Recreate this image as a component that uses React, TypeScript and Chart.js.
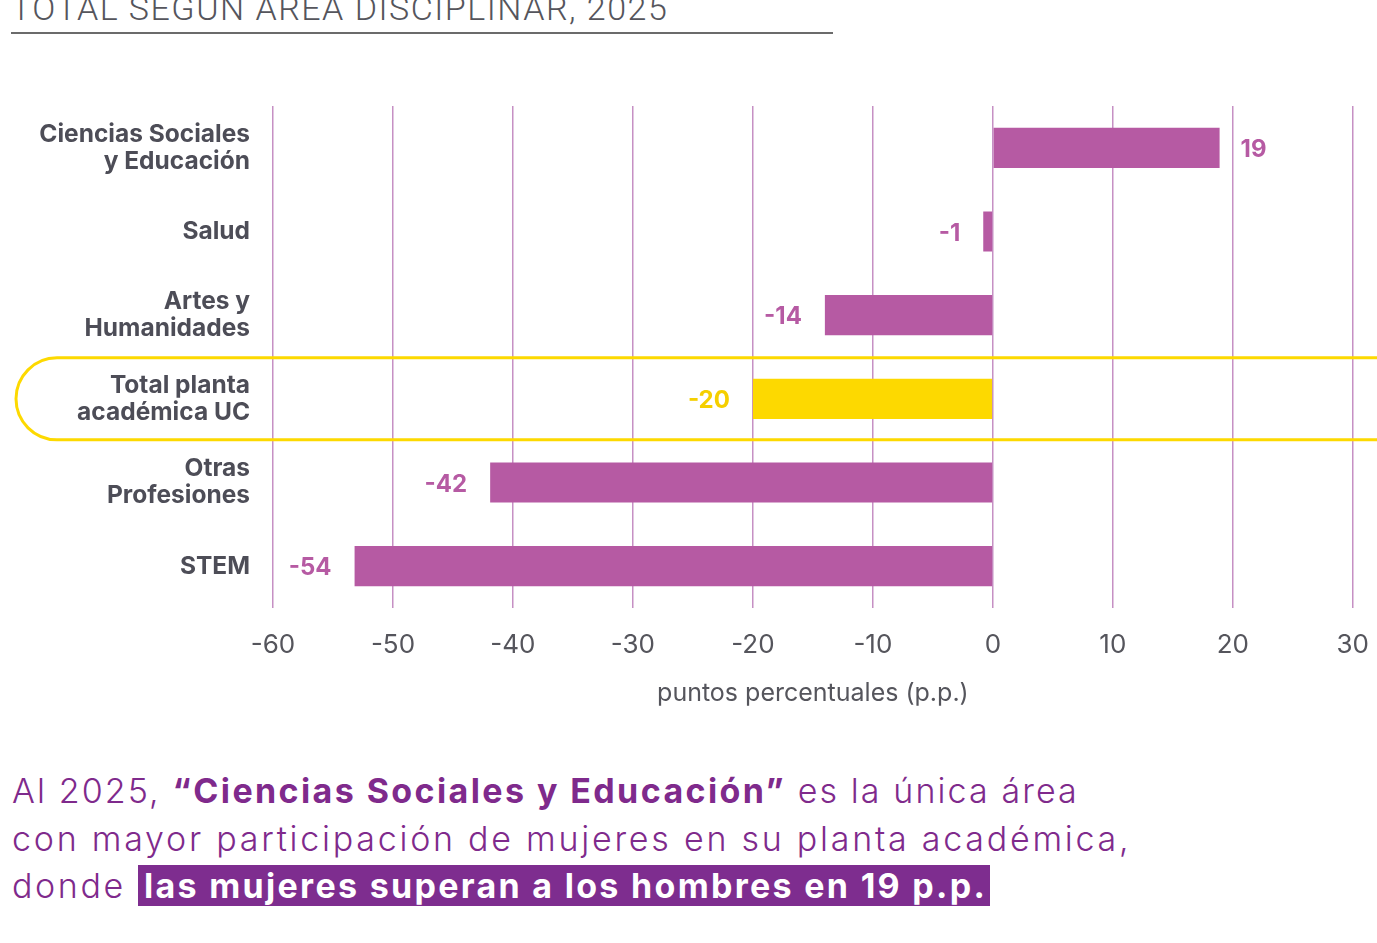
import React, { useEffect, useRef } from "react";
import { Chart, registerables } from "chart.js";

Chart.register(...registerables);

const categories: (string | string[])[] = [
  ["Ciencias Sociales", "y Educación"],
  "Salud",
  ["Artes y", "Humanidades"],
  ["Total planta", "académica UC"],
  ["Otras", "Profesiones"],
  "STEM",
];
const values: number[] = [18.9, -0.8, -14, -20, -41.9, -53.2];
const valueLabels: string[] = ["19", "-1", "-14", "-20", "-42", "-54"];
const barColors: string[] = ["#b65aa3", "#b65aa3", "#b65aa3", "#fdd900", "#b65aa3", "#b65aa3"];
const labelColors: string[] = ["#b65aa3", "#b65aa3", "#b65aa3", "#f5cf00", "#b65aa3", "#b65aa3"];
const highlightIndex = 3;
const xMin = -60;
const xMax = 30;
const xStep = 10;

const highlightPlugin = {
  id: "highlightBand",
  beforeDatasetsDraw(chart: any) {
    const { ctx } = chart;
    const y = chart.scales.y;
    const yc = y.getPixelForValue(highlightIndex);
    const r = 41;
    const left = 16;
    const right = chart.width + 10;
    ctx.save();
    ctx.strokeStyle = "#fdd900";
    ctx.lineWidth = 3;
    ctx.beginPath();
    ctx.moveTo(right, yc - r);
    ctx.lineTo(left + r, yc - r);
    ctx.arc(left + r, yc, r, -Math.PI / 2, Math.PI / 2, true);
    ctx.lineTo(right, yc + r);
    ctx.stroke();
    ctx.restore();
  },
};

const valueLabelPlugin = {
  id: "valueLabels",
  afterDatasetsDraw(chart: any) {
    const { ctx } = chart;
    const meta = chart.getDatasetMeta(0);
    ctx.save();
    ctx.font = "bold 24px Inter";
    ctx.textBaseline = "middle";
    meta.data.forEach((bar: any, i: number) => {
      const v = values[i];
      ctx.fillStyle = labelColors[i];
      if (v >= 0) {
        ctx.textAlign = "left";
        ctx.fillText(valueLabels[i], bar.x + 21, bar.y + 2);
      } else {
        ctx.textAlign = "right";
        ctx.fillText(valueLabels[i], bar.x - 23, bar.y + 2);
      }
    });
    ctx.restore();
  },
};

function BarChart() {
  const ref = useRef<HTMLCanvasElement | null>(null);
  useEffect(() => {
    if (!ref.current) return;
    const chart = new Chart(ref.current, {
      type: "bar",
      data: {
        labels: categories as any,
        datasets: [
          {
            data: values,
            backgroundColor: barColors,
            barPercentage: 0.48,
            categoryPercentage: 1,
          },
        ],
      },
      options: {
        indexAxis: "y",
        responsive: false,
        animation: false,
        layout: { padding: { top: 106, right: 11, bottom: 12, left: 0 } },
        plugins: {
          legend: { display: false },
          tooltip: { enabled: false },
          title: { display: false },
        },
        scales: {
          x: {
            min: xMin,
            max: xMax,
            ticks: {
              stepSize: xStep,
              padding: 22,
              color: "#55555c",
              font: { family: "Inter", size: 26, weight: "normal" },
            },
            grid: { color: "#c690c4", lineWidth: 1.5, drawTicks: false },
            border: { display: false },
            title: {
              display: true,
              text: "puntos percentuales (p.p.)",
              color: "#55555c",
              font: { family: "Inter", size: 25, weight: "normal" },
              padding: { top: 10, bottom: 0 },
            },
            afterFit: (s: any) => {
              s.height = 100;
            },
          },
          y: {
            ticks: {
              padding: 23,
              color: "#4d4d57",
              font: { family: "Inter", size: 24.5, weight: "bold", lineHeight: 1.1 },
            },
            grid: { display: false, drawTicks: false },
            border: { display: false },
            afterFit: (s: any) => {
              s.width = 273;
            },
          },
        },
      },
      plugins: [highlightPlugin, valueLabelPlugin],
    });
    return () => chart.destroy();
  }, []);
  return <canvas ref={ref} width={1391} height={720} style={{ display: "block" }} />;
}

export default function App() {
  return (
    <div
      style={{
        position: "absolute",
        left: 0,
        top: 0,
        width: 1377,
        height: 943,
        overflow: "hidden",
        background: "#ffffff",
      }}
    >
      <div
        style={{
          position: "absolute",
          left: 11,
          top: -9,
          fontFamily: "Roboto",
          fontWeight: 300,
          fontSize: 34,
          lineHeight: "34px",
          color: "#55555c",
          whiteSpace: "nowrap",
          letterSpacing: "1.5px",
        }}
      >
        TOTAL SEGÚN ÁREA DISCIPLINAR, 2025
      </div>
      <div
        style={{
          position: "absolute",
          left: 11,
          top: 32,
          width: 822,
          height: 2,
          background: "#6b6b6b",
        }}
      />
      <div style={{ position: "absolute", left: 0, top: 0, width: 1391, height: 720 }}>
        <BarChart />
      </div>
      <div
        style={{
          position: "absolute",
          left: 12,
          top: 767,
          width: 1300,
          fontFamily: "Inter",
          fontWeight: 300,
          fontSize: 34,
          lineHeight: "47.5px",
          color: "#7f2a8c",
          whiteSpace: "nowrap",
          letterSpacing: "2.6px",
        }}
      >
        <div style={{ letterSpacing: "2.1px" }}>
          Al 2025, <b style={{ fontWeight: 700, letterSpacing: "2.4px" }}>“Ciencias Sociales y Educación”</b> es la única área
        </div>
        <div style={{ letterSpacing: "2.75px" }}>con mayor participación de mujeres en su planta académica,</div>
        <div>
          donde{" "}
          <span
            style={{
              background: "#7e2d8f",
              color: "#ffffff",
              fontWeight: 700,
              letterSpacing: "2.3px",
              padding: "0 3px 0 6px",
            }}
          >
            las mujeres superan a los hombres en 19 p.p.
          </span>
        </div>
      </div>
    </div>
  );
}
